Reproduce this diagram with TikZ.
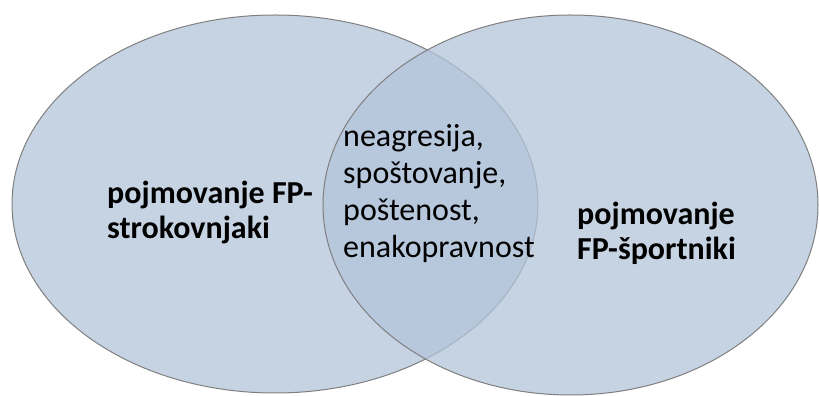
\documentclass[tikz,border=0pt]{standalone}
\usepackage{fontspec}
\setmainfont{Carlito}
\usetikzlibrary{shapes.geometric}
\definecolor{vennfill}{HTML}{B3C4DA}
\definecolor{vennline}{HTML}{7F7F7F}
\definecolor{textcolor}{HTML}{000000}

\begin{document}
\begin{tikzpicture}[
    x=1pt, y=1pt,
    every node/.style={font=\fontsize{32}{37}\selectfont, text=textcolor},
    set/.style={ellipse, draw=vennline, fill=vennfill, fill opacity=0.75,
                line width=1pt, inner sep=0pt},
    setlabel/.style={anchor=base west, align=left, inner sep=0pt,
                     font=\fontsize{32}{35}\selectfont\bfseries},
    common/.style={anchor=base west, align=left, inner sep=0pt},
]
\useasboundingbox (0, 0) rectangle (819, 396);

% ---------------------------------------------------------------- the two sets
\node[set, minimum width=526, minimum height=378] (strok) at (275, 192) {};
\node[set, minimum width=495, minimum height=380] (sport) at (570.5, 191) {};

% ---------------------------------------------------------------- labels
% anchored at the baseline of the last line
\node[setlabel] (strokl) at (107, 157) {pojmovanje FP-\\strokovnjaki};
\node[setlabel] (sportl) at (577, 136) {pojmovanje\\FP-športniki};

% ---------------------------------------------------------------- the overlap
\node[common] (skupno) at (343, 138) {neagresija,\\spoštovanje,\\poštenost,\\enakopravnost};
\end{tikzpicture}
\end{document}
